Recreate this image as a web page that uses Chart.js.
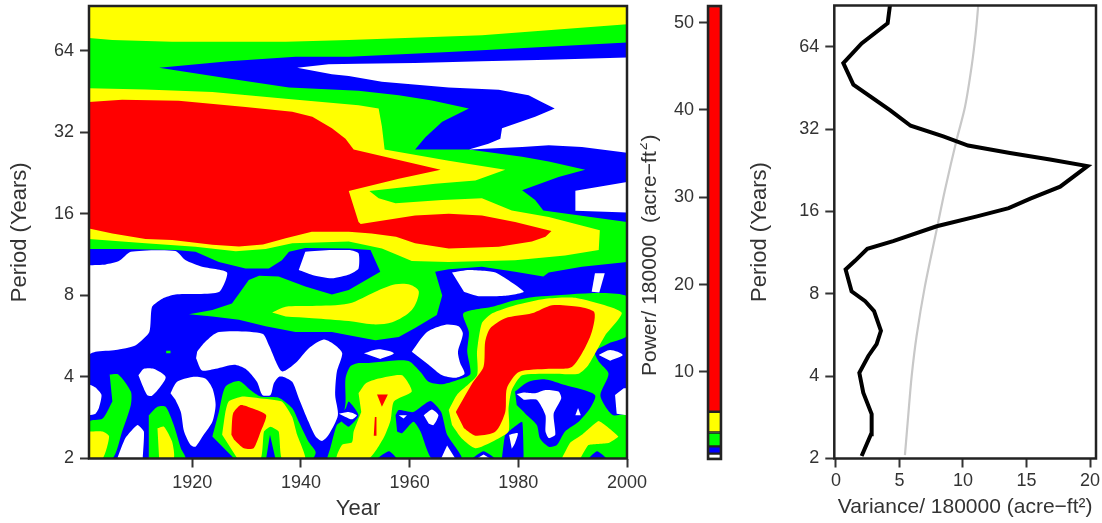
<!DOCTYPE html>
<html>
<head>
<meta charset="utf-8">
<style>
  html, body { margin: 0; padding: 0; background: #fff; overflow: hidden; }
  canvas { position: absolute; top: 0; }
</style>
<script src="https://cdn.jsdelivr.net/npm/chart.js@4"></script>
</head>
<body>
<canvas id="powerChart" width="660" height="523" style="left:0"></canvas>
<canvas id="scaleChart" width="100" height="523" style="left:640px"></canvas>
<canvas id="varianceChart" width="362" height="523" style="left:740px"></canvas>
<script>
// Wavelet power spectrum. Contours are [year, log2(period)]
const yearTicks = [1920, 1940, 1960, 1980, 2000];
const periodTicks = [2, 4, 8, 16, 32, 64];
const powerTicks = [10, 20, 30, 40, 50];
const varianceTicks = [0, 5, 10, 15, 20];

const blueBase = [[1901, 1], [2000, 1], [2000, 6.55], [1901, 6.55]];

const greenTop = [
  [1901, 6.55], [2000, 6.55], [2000, 6.10], [1967.2, 5.985], [1948.8, 5.925], [1939, 5.925], [1926.7, 5.87],
  [1913.9, 5.79], [1926.7, 5.66], [1937.8, 5.55], [1950.6, 5.508], [1958, 5.455], [1964.1, 5.39], [1970.9, 5.29],
  [1966, 5.13], [1962.9, 4.94], [1961, 4.79], [1970.9, 4.79], [1980.7, 4.70], [1985.6, 4.64], [1992.3, 4.54],
  [1987.4, 4.45], [1980.7, 4.29], [1983.1, 4.17], [1984.6, 4.04], [2000, 3.90], [2000, 3.41], [1991.7, 3.35],
  [1985.6, 3.28], [1984.6, 3.23], [1979.4, 3.29], [1973.3, 3.35], [1967.2, 3.32], [1964.7, 3.29], [1966, 3.0],
  [1965, 2.76], [1961, 2.60], [1958, 2.49], [1953.7, 2.45], [1948.8, 2.51], [1945.7, 2.55], [1939, 2.55],
  [1933.5, 2.62], [1928.6, 2.70], [1923.7, 2.74], [1919.4, 2.77], [1923.7, 2.82], [1927.3, 2.90], [1928.6, 3.02],
  [1930.4, 3.19], [1932.3, 3.24], [1935.9, 3.23], [1940.8, 3.11], [1945.7, 3.01], [1948.8, 3.065], [1954.6, 3.29],
  [1952.8, 3.555], [1948.8, 3.575], [1940.8, 3.58], [1937.8, 3.535], [1936.5, 3.43], [1934.1, 3.33], [1929.8, 3.33],
  [1924.9, 3.41], [1920.6, 3.535], [1916.9, 3.555], [1907.1, 3.57], [1901, 3.57]
];
const greenRight = [
  [1944.8, 1], [1945.4, 1.125], [1946.6, 1.41], [1947.5, 1.46], [1948.2, 1.68], [1948.2, 1.98], [1949.1, 2.13],
  [1950.6, 2.17], [1952.5, 2.17], [1956.2, 2.195], [1959.8, 2.195], [1962, 2.06], [1963.5, 1.94], [1966, 1.91],
  [1969.6, 1.98], [1971.2, 2.04], [1970.6, 2.31], [1970.9, 2.55], [1969.9, 2.78], [1975.2, 2.86], [1979.4, 2.94],
  [1984.3, 2.99], [2000, 2.99], [2000, 2.51], [1996.6, 2.41], [1994.1, 2.31], [1994.8, 2.19], [1996.6, 2.04],
  [1995.1, 1.78], [1996.3, 1.61], [1997.5, 1.53], [2000, 1.53], [2000, 1]
];
const greenLobe = [
  [1923.7, 1.27], [1924.9, 1.57], [1926.1, 1.88], [1928.6, 1.95], [1930.7, 1.84], [1932.6, 1.76], [1935.9, 1.745],
  [1938.4, 1.615], [1939.6, 1.45], [1941.4, 1.205], [1942.7, 1.08], [1942.1, 1], [1927.7, 1]
];
const greenLeft = [
  [1904.8, 2.03], [1906.4, 2.03], [1908.7, 1.82], [1908.7, 1.655], [1907.1, 1.33], [1905.3, 1], [1901, 1],
  [1901, 1.45], [1903.5, 1.49], [1905.3, 1.70]
];
const greenSmall = [
  [1912, 1.53], [1913.6, 1.635], [1915.1, 1.635], [1916.6, 1.41], [1917.9, 1.125], [1918.7, 1], [1912, 1]
];
const greenDot = [[1915.2, 2.29], [1916, 2.29], [1916, 2.32], [1915.2, 2.32]];

const bluePatchA = [
  [1979.4, 1.82], [1981.9, 1.94], [1985, 1.97], [1988.6, 1.90], [1994.1, 1.78], [1993.2, 1.615], [1991.1, 1.45],
  [1988.6, 1.33], [1987.1, 1.165], [1985.6, 1.145], [1984, 1.245], [1983.4, 1.41], [1981.3, 1.55], [1979.7, 1.655]
];
const bluePatchB = [
  [1957.4, 1.53], [1958, 1.595], [1960.7, 1.57], [1963.8, 1.705], [1965.8, 1.57], [1966.9, 1.29], [1969.6, 1],
  [1964.1, 1], [1962, 1.33], [1960.7, 1.45], [1958.6, 1.31], [1957.7, 1.33]
];
const bluePatchC = [[1977, 1], [1977.6, 1.29], [1980.7, 1.45], [1981, 1]];
const bluePatchD = [[1946.7, 1.51], [1948.2, 1.61], [1948.8, 1.70], [1950.6, 1.53], [1948.8, 1.39], [1947.5, 1.45]];
const bluePatchE = [[1992.9, 1], [1994.5, 1.09], [1996.3, 1]];
const bluePatchF = [[1971.5, 1], [1973.6, 1.09], [1975.8, 1]];
const bluePatchG = [[1954, 1], [1956.2, 1.09], [1957.7, 1]];
const bluePatchH = [[1933.6, 1], [1934.3, 1.29], [1935.3, 1]];

const whiteTop = [
  [1939.3, 5.79], [1945.1, 5.835], [1950.6, 5.84], [1961, 5.85], [1973.3, 5.87], [1985.6, 5.89], [2000, 5.917],
  [2000, 4.75], [1991.7, 4.82], [1985.6, 4.84], [1980.7, 4.82], [1970.9, 4.79], [1974.5, 4.86], [1976.7, 4.92],
  [1977, 5.05], [1983.1, 5.19], [1986.7, 5.29], [1984.3, 5.37], [1981.9, 5.455], [1976.4, 5.52], [1967.2, 5.55],
  [1954.9, 5.62], [1948.8, 5.69], [1945.7, 5.71]
];
const whiteRight = [[1990.5, 4.283], [2000, 4.39], [2000, 4.017], [1990.5, 4.037]];
const whiteLeft = [
  [1901, 3.37], [1904.1, 3.38], [1906.5, 3.42], [1908.7, 3.535], [1916.9, 3.545], [1918.8, 3.43], [1921.8, 3.35],
  [1926.4, 3.28], [1924.9, 3.04], [1916.9, 3.01], [1914.5, 2.96], [1912.6, 2.86], [1912.1, 2.55], [1909.6, 2.39],
  [1905.9, 2.33], [1902.2, 2.31], [1901, 2.28]
];
const whiteB = [
  [1940.8, 3.535], [1945.7, 3.555], [1949, 3.555], [1950.6, 3.515], [1950.6, 3.33], [1949, 3.26], [1945.7, 3.21],
  [1942.1, 3.25], [1939.6, 3.31]
];
const whiteC = [
  [1920.9, 2.31], [1922.4, 2.43], [1924.9, 2.55], [1932.9, 2.53], [1934.1, 2.39], [1936.5, 2.07], [1939, 2.17],
  [1941.4, 2.35], [1944.2, 2.46], [1946.3, 2.39], [1947.6, 2.29], [1946.6, 2.06], [1946.3, 1.78], [1946.8, 1.53],
  [1945.1, 1.29], [1943.9, 1.215], [1942.7, 1.27], [1941.4, 1.45], [1939.6, 1.74], [1938.4, 1.94], [1936.8, 2.0],
  [1935.9, 2.0], [1935, 1.92], [1934.4, 1.78], [1932.9, 1.78], [1931.9, 1.94], [1929.8, 2.10], [1927.7, 2.15],
  [1924.3, 2.10], [1921.8, 2.08], [1920.7, 2.23]
];
const whiteD = [[1910.1, 2.02], [1911.1, 2.10], [1912.9, 2.10], [1915.1, 2.0], [1913.9, 1.86], [1912.6, 1.77], [1911.7, 1.78], [1910.8, 1.90]];
const whiteE = [
  [1916, 1.80], [1917.2, 1.94], [1920, 2.0], [1922.4, 1.98], [1923.7, 1.86], [1924.3, 1.66], [1923.7, 1.45],
  [1922.1, 1.29], [1920.6, 1.145], [1919.7, 1.165], [1918.5, 1.33], [1917.9, 1.57], [1916.9, 1.72]
];
const whiteF = [[1901, 1.91], [1902.2, 1.87], [1903.3, 1.78], [1902.8, 1.615], [1902.2, 1.55], [1901, 1.53]];
const whiteG = [[1906.2, 1], [1907.7, 1.25], [1909.9, 1.41], [1911.1, 1.33], [1910.9, 1]];
const whiteH = [[1947, 1.55], [1948.8, 1.57], [1950.3, 1.53], [1949.4, 1.48], [1948.2, 1.51]];
const whiteI = [[1967.8, 3.28], [1970.9, 3.31], [1975.8, 3.28], [1981, 3.045], [1977.6, 2.995], [1972.7, 2.99], [1970, 3.045]];
const whiteJ = [[1994.1, 3.27], [1995.9, 3.27], [1994.9, 3.035], [1993.5, 3.045]];
const whiteK = [
  [1960.4, 2.31], [1963.2, 2.55], [1966.6, 2.64], [1969, 2.62], [1969.8, 2.53], [1968.9, 2.31], [1969.3, 2.17],
  [1970.1, 2.04], [1968.4, 1.99], [1966, 2.02], [1963.5, 2.15]
];
const whiteL = [[1951.6, 2.29], [1954.3, 2.34], [1957.1, 2.29], [1954.6, 2.22]];
const whiteM = [[1994.8, 2.27], [1996.9, 2.33], [1999.2, 2.27], [1996.9, 2.20]];
const whiteN = [[1997.8, 1.78], [1999.4, 1.86], [2000, 1.86], [2000, 1.53], [1998.1, 1.55]];
const whiteO = [
  [1979.7, 1.79], [1981, 1.81], [1983.1, 1.80], [1985, 1.84], [1987.4, 1.82], [1987.9, 1.74], [1986.5, 1.55],
  [1986.8, 1.29], [1985.6, 1.25], [1985, 1.33], [1985, 1.53], [1983.4, 1.72], [1981, 1.72]
];
const whiteP = [[1990.5, 1.53], [1991, 1.62], [1991.5, 1.53]];
const whiteQ = [[1962.6, 1.53], [1964.1, 1.6], [1965.3, 1.53], [1964.4, 1.41], [1963.5, 1.43]];
const whiteR = [[1958, 1.53], [1959.5, 1.53], [1958.9, 1.49]];
const whiteS = [[1978.3, 1.29], [1979.9, 1.31], [1979.4, 1.19], [1978.8, 1.12]];
const whiteT = [[1965.8, 1], [1966.9, 1.16], [1968.4, 1]];
const whiteU = [[1972.4, 1], [1973.6, 1.05], [1974.8, 1]];

const yellowTop = [
  [1901, 6.55], [2000, 6.55], [2000, 6.325], [1973.3, 6.19], [1948.8, 6.13], [1937.2, 6.11], [1916.3, 6.11],
  [1905.3, 6.13], [1901, 6.157]
];
const yellowMain = [
  [1901, 5.54], [1911.4, 5.525], [1923.7, 5.495], [1937.2, 5.41], [1950.6, 5.33], [1954.3, 5.29], [1954.9, 5.07],
  [1955.4, 4.79], [1967.2, 4.65], [1977.6, 4.54], [1972.1, 4.41], [1964.7, 4.37], [1956.8, 4.31], [1952.6, 4.28],
  [1954.3, 4.19], [1957.4, 4.13], [1966, 4.17], [1973.3, 4.19], [1978.8, 4.04], [1985.6, 3.96], [1995, 3.80],
  [1994.8, 3.555], [1988.6, 3.49], [1979.4, 3.43], [1967.2, 3.41], [1960.4, 3.42], [1958, 3.49], [1954.9, 3.575],
  [1948.8, 3.66], [1938.4, 3.64], [1933.5, 3.57], [1928, 3.54], [1920.6, 3.595], [1911.4, 3.64], [1901, 3.69]
];
const yellowSpot = [
  [1934.7, 2.79], [1937.2, 2.86], [1942.1, 2.87], [1948.8, 2.90], [1953.7, 3.045], [1957.4, 3.135], [1960.1, 3.13],
  [1961.7, 3.045], [1960.4, 2.82], [1956.8, 2.67], [1953.1, 2.645], [1948.8, 2.685], [1942.1, 2.72], [1937.2, 2.74]
];
const yellowRight = [
  [1967.2, 1.595], [1968.7, 1.78], [1972.4, 2.02], [1972.4, 2.31], [1973.3, 2.66], [1975.2, 2.78], [1979.4, 2.88],
  [1985, 2.96], [1990.5, 2.97], [1999, 2.79], [1996, 2.51], [1992.9, 2.145], [1991.1, 2.04], [1985.6, 2.04],
  [1980.7, 2.02], [1978.8, 1.84], [1978.2, 1.615], [1978.2, 1.33], [1975.2, 1.205], [1972.1, 1.125], [1969.6, 1.245],
  [1967.8, 1.41]
];
const yellowCenter = [
  [1950.6, 1.80], [1951.9, 1.92], [1954.3, 1.98], [1958.6, 2.02], [1960.4, 1.82], [1957.1, 1.70], [1956.5, 1.47],
  [1955.2, 1.25], [1952.5, 1], [1946.6, 1], [1947.6, 1.17], [1949.4, 1.20], [1949.7, 1.33], [1951.1, 1.57]
];
const yellowBottomRight = [
  [1988, 1], [1989.5, 1.19], [1991.7, 1.29], [1994.8, 1.46], [1998.4, 1.27], [1996.6, 1.19], [1992.9, 1.165], [1991.4, 1]
];
const yellowLobe = [
  [1925.5, 1.29], [1926.1, 1.57], [1926.7, 1.70], [1929.2, 1.76], [1932.3, 1.74], [1936.5, 1.70], [1938.4, 1.51],
  [1939.3, 1.29], [1940.8, 1], [1936.5, 1], [1935.9, 1.33], [1934.4, 1.39], [1933.2, 1.33], [1932.6, 1], [1928.3, 1]
];
const yellowCorner = [[1901, 1.33], [1903.5, 1.33], [1904.7, 1.27], [1903.5, 1], [1901, 1]];
const yellowSmall = [[1913.6, 1.37], [1914.8, 1.39], [1916.3, 1.205], [1916.6, 1], [1913.9, 1]];

const redMain = [
  [1901, 5.37], [1907.1, 5.40], [1917.5, 5.385], [1929.8, 5.31], [1938.4, 5.25], [1942.1, 5.19], [1945.7, 5.05],
  [1948.2, 4.92], [1949.7, 4.79], [1965.7, 4.54], [1958, 4.43], [1948.8, 4.28], [1950.6, 3.90], [1951, 3.875],
  [1961, 3.98], [1967.2, 4.0], [1973.3, 3.98], [1979.4, 3.90], [1986.1, 3.79], [1985, 3.72], [1982.5, 3.66],
  [1976.4, 3.595], [1967.2, 3.575], [1961, 3.64], [1957.5, 3.72], [1953, 3.76], [1948.8, 3.78], [1942, 3.78],
  [1937.2, 3.70], [1933, 3.625], [1928.6, 3.60], [1923.7, 3.62], [1916.3, 3.68], [1911.4, 3.69], [1905.3, 3.76],
  [1901, 3.82]
];
const redRight = [
  [1968.5, 1.57], [1971.5, 1.92], [1973.6, 2.125], [1973.9, 2.43], [1974.8, 2.595], [1977.6, 2.72], [1982.5, 2.78],
  [1986.2, 2.88], [1991.1, 2.86], [1994, 2.79], [1993.2, 2.49], [1989.9, 2.125], [1985.6, 2.10], [1980.1, 2.06],
  [1977.9, 1.86], [1977.6, 1.57], [1975.8, 1.33], [1972.1, 1.28], [1970, 1.37]
];
const redLobe = [
  [1927.2, 1.29], [1927.5, 1.55], [1928.9, 1.655], [1931, 1.615], [1933.6, 1.53], [1932.6, 1.33], [1931.3, 1.125],
  [1929.5, 1.125], [1927.7, 1.23]
];
const redTickA = [[1954, 1.785], [1956, 1.785], [1954.9, 1.635]];
const redTickB = [[1953.6, 1.51], [1953.9, 1.51], [1953.9, 1.28], [1953.4, 1.28]];

// colour bar boundaries, bottom to top
const powerLevels = [0.02, 0.63, 1.46, 3.06, 5.43, 51.9];
const levelColors = ['#ffffff', '#0000ff', '#00ff00', '#ffff00', '#ff0000'];

// global spectrum, [variance, log2(period)] pairs
const globalVariance = [
  [2.02, 1.03], [2.76, 1.295], [2.81, 1.54], [2.15, 1.80], [1.84, 2.04], [2.55, 2.245], [3.2, 2.39], [3.54, 2.55],
  [3.0, 2.79], [2.3, 2.91], [1.23, 3.03], [0.76, 3.295], [1.5, 3.40], [2.47, 3.545], [4.5, 3.64], [7.93, 3.82],
  [11.1, 3.94], [13.6, 4.04], [15.3, 4.155], [17.65, 4.30], [19.8, 4.55], [16.85, 4.63], [13.7, 4.71], [10.4, 4.80],
  [8.45, 4.91], [5.88, 5.04], [4.25, 5.23], [1.37, 5.54], [0.58, 5.80], [2.02, 6.04], [4.07, 6.285], [4.25, 6.5]
];
const significance = [
  [5.43, 1.04], [5.7, 1.54], [5.96, 2.0], [6.35, 2.49], [7, 3.09], [7.93, 3.78], [8.58, 4.26], [9.5, 4.87],
  [10.16, 5.27], [10.68, 5.76], [11, 6.16], [11.2, 6.5]
];

const BLUE = '#0000ff', GREEN = '#00ff00', YELLOW = '#ffff00', RED = '#ff0000', WHITE = '#ffffff';
const FONT = { family: '"Liberation Sans", Arial, sans-serif', size: 18 };
const INK = '#333333';

// paint order, back to front: [pairs, colour, smoothing]
const layers = [
  [blueBase, BLUE, 0],
  [greenTop, GREEN, 0], [greenRight, GREEN, 0.25], [greenLobe, GREEN, 0.25], [greenLeft, GREEN, 0.25],
  [greenSmall, GREEN, 0.25], [greenDot, GREEN, 0],
  [bluePatchA, BLUE, 0.25], [bluePatchB, BLUE, 0.2], [bluePatchC, BLUE, 0.1], [bluePatchD, BLUE, 0.2],
  [bluePatchE, BLUE, 0.2], [bluePatchF, BLUE, 0.2], [bluePatchG, BLUE, 0.2], [bluePatchH, BLUE, 0],
  [whiteTop, WHITE, 0], [whiteRight, WHITE, 0], [whiteLeft, WHITE, 0.2], [whiteB, WHITE, 0.2], [whiteC, WHITE, 0.25],
  [whiteD, WHITE, 0.25], [whiteE, WHITE, 0.25], [whiteF, WHITE, 0.2], [whiteG, WHITE, 0.15], [whiteH, WHITE, 0.2],
  [whiteI, WHITE, 0.15], [whiteJ, WHITE, 0], [whiteK, WHITE, 0.25], [whiteL, WHITE, 0.3], [whiteM, WHITE, 0.3],
  [whiteN, WHITE, 0], [whiteO, WHITE, 0.2], [whiteP, WHITE, 0], [whiteQ, WHITE, 0.2], [whiteR, WHITE, 0],
  [whiteS, WHITE, 0.2], [whiteT, WHITE, 0], [whiteU, WHITE, 0],
  [yellowTop, YELLOW, 0], [yellowMain, YELLOW, 0], [yellowSpot, YELLOW, 0.3], [yellowRight, YELLOW, 0.2],
  [yellowCenter, YELLOW, 0.2], [yellowBottomRight, YELLOW, 0.1], [yellowLobe, YELLOW, 0.15], [yellowCorner, YELLOW, 0.2],
  [yellowSmall, YELLOW, 0.2],
  [redMain, RED, 0], [redRight, RED, 0.25], [redLobe, RED, 0.2], [redTickA, RED, 0], [redTickB, RED, 0]
];

const contourDatasets = layers.map(([pairs, color, tension]) => ({
  data: pairs.map(([x, y]) => ({ x, y })),
  showLine: true,
  fill: 'shape',
  backgroundColor: color,
  borderColor: color,
  borderWidth: 0,
  pointRadius: 0,
  tension
})).reverse(); // first dataset is drawn last

const framePlugin = {
  id: 'frame',
  afterDatasetsDraw(chart) {
    const a = chart.chartArea, ctx = chart.ctx;
    ctx.save();
    ctx.strokeStyle = '#222222';
    ctx.lineWidth = 2.5;
    ctx.strokeRect(a.left, a.top, a.right - a.left, a.bottom - a.top);
    ctx.restore();
  }
};

// rotated axis label with a raised exponent
const powerLabelPlugin = {
  id: 'powerLabel',
  afterDraw(chart) {
    const ctx = chart.ctx;
    ctx.save();
    ctx.translate(10, 376);
    ctx.rotate(-Math.PI / 2);
    ctx.fillStyle = INK;
    ctx.textAlign = 'left';
    ctx.textBaseline = 'middle';
    ctx.font = '21px ' + FONT.family;
    const text = 'Power/ 180000  (acre\u2212ft';
    ctx.fillText(text, 0, 0);
    const w = ctx.measureText(text).width + 1;
    ctx.font = '14px ' + FONT.family;
    ctx.fillText('2', w, -7);
    const w2 = ctx.measureText('2').width + 1;
    ctx.font = '21px ' + FONT.family;
    ctx.fillText(')', w + w2, 0);
    ctx.restore();
  }
};

const baseOptions = {
  responsive: false,
  animation: false,
  events: [],
  plugins: { legend: { display: false }, tooltip: { enabled: false } }
};

// the plot boxes are fixed, so labels may not push them in
const fixWidth = width => s => { s.width = width; s.paddingTop = 0; s.paddingBottom = 0; };
const fixHeight = height => s => { s.height = height; s.paddingLeft = 0; s.paddingRight = 0; };

const log2Ticks = axis => { axis.ticks = periodTicks.map(p => ({ value: Math.log2(p) })); };
const periodLabel = v => String(Math.round(Math.pow(2, v)));
const tickGrid = { drawOnChartArea: false, tickLength: 9, tickColor: '#333333', tickWidth: 2 };

new Chart(document.getElementById('powerChart'), {
  type: 'scatter',
  data: { datasets: contourDatasets },
  plugins: [framePlugin],
  options: {
    ...baseOptions,
    layout: { padding: { top: 6, right: 33 } },
    scales: {
      x: {
        type: 'linear', min: 1901, max: 2000,
        afterFit: fixHeight(64.5),
        afterBuildTicks: axis => { axis.ticks = yearTicks.map(value => ({ value })); },
        grid: tickGrid,
        border: { display: false },
        ticks: { color: INK, font: FONT, padding: 5, maxRotation: 0, callback: v => String(v) },
        title: { display: true, text: 'Year', color: INK, font: { ...FONT, size: 22 }, padding: { top: 0, bottom: 1 } }
      },
      y: {
        type: 'linear', min: 1, max: 6.548,
        afterFit: fixWidth(89),
        afterBuildTicks: log2Ticks,
        grid: tickGrid,
        border: { display: false },
        ticks: { color: INK, font: FONT, padding: 6, callback: periodLabel },
        title: { display: true, text: 'Period (Years)', color: INK, font: { ...FONT, size: 22 }, padding: { top: 7, bottom: 0 } }
      }
    }
  }
});

new Chart(document.getElementById('scaleChart'), {
  type: 'bar',
  data: {
    labels: ['power'],
    datasets: levelColors.map((color, i) => ({
      data: [[powerLevels[i], powerLevels[i + 1]]],
      backgroundColor: color,
      borderColor: '#222222',
      borderWidth: 1.5,
      borderSkipped: false,
      barPercentage: 1,
      categoryPercentage: 1
    }))
  },
  plugins: [framePlugin, powerLabelPlugin],
  options: {
    ...baseOptions,
    layout: { padding: { top: 6, right: 19, bottom: 64 } },
    scales: {
      x: { display: false, stacked: true },
      y: {
        type: 'linear', min: 0.02, max: 51.9,
        afterFit: fixWidth(68),
        afterBuildTicks: axis => { axis.ticks = powerTicks.map(value => ({ value })); },
        grid: tickGrid,
        border: { display: false },
        ticks: { color: INK, font: FONT, padding: 5, callback: v => String(v) }
      }
    }
  }
});

new Chart(document.getElementById('varianceChart'), {
  type: 'scatter',
  data: {
    datasets: [
      {
        data: significance.map(([x, y]) => ({ x, y })),
        showLine: true, borderColor: '#c8c8c8', borderWidth: 2.2, pointRadius: 0, tension: 0.3
      },
      {
        data: globalVariance.map(([x, y]) => ({ x, y })),
        showLine: true, borderColor: '#000000', borderWidth: 4, pointRadius: 0, tension: 0
      }
    ].reverse()
  },
  plugins: [framePlugin],
  options: {
    ...baseOptions,
    layout: { padding: { top: 5.5, right: 6 } },
    scales: {
      x: {
        type: 'linear', min: -0.13, max: 20.47,
        afterFit: fixHeight(64.5),
        afterBuildTicks: axis => { axis.ticks = varianceTicks.map(value => ({ value })); },
        grid: tickGrid,
        border: { display: false },
        ticks: { color: INK, font: FONT, padding: 3, callback: v => String(v) },
        title: { display: true, text: 'Variance/ 180000 (acre\u2212ft\u00b2)', color: INK, font: { ...FONT, size: 21 }, padding: { top: 0, bottom: 3 } }
      },
      y: {
        type: 'linear', min: 1, max: 6.5,
        afterFit: fixWidth(94.3),
        afterBuildTicks: log2Ticks,
        grid: tickGrid,
        border: { display: false },
        ticks: { color: INK, font: FONT, padding: 6, callback: periodLabel },
        title: { display: true, text: 'Period (Years)', color: INK, font: { ...FONT, size: 22 }, padding: { top: 7, bottom: 0 } }
      }
    }
  }
});
</script>
</body>
</html>
